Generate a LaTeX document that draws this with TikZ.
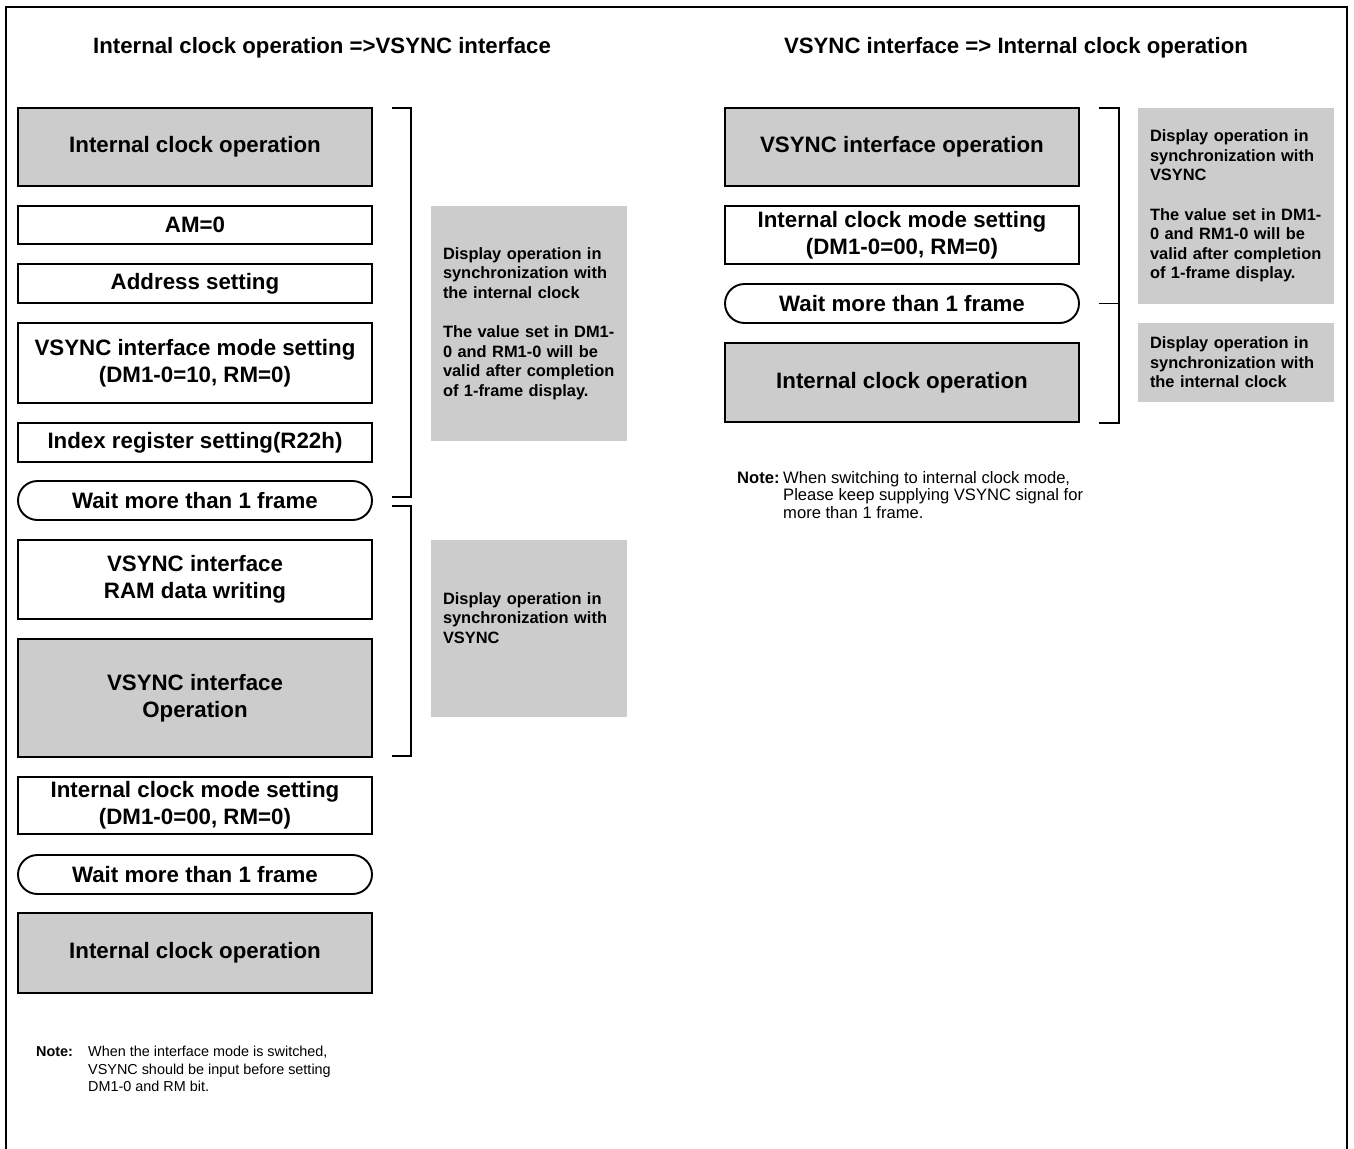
\documentclass[tikz,border=0pt]{standalone}
\usepackage{fontspec}
\setmainfont{Liberation Sans}
\definecolor{panel}{gray}{0.8}
\begin{document}
\begin{tikzpicture}[x=1pt,y=-1pt,
  stepbox/.style={draw, line width=1.9pt, minimum width=354pt, inner sep=0pt,
    align=center, font=\fontsize{22.3}{27}\selectfont\bfseries},
  opbox/.style={stepbox, fill=panel},
  waitbox/.style={stepbox, minimum height=39pt, rounded corners=19.5pt},
  infobox/.style={fill=panel, inner sep=0pt, minimum width=196pt},
  infotext/.style={inner sep=0pt, text width=174pt, align=left,
    font=\fontsize{16.4}{19.6}\selectfont\bfseries},
  heading/.style={inner sep=0pt, font=\fontsize{22.2}{26}\selectfont\bfseries},
  notetext/.style={inner sep=0pt, align=left, anchor=north west},
  bracket/.style={line width=1.9pt}
]
\useasboundingbox (0,0) rectangle (1354,1148);

% outer frame
\draw[line width=2pt] (6,1152) -- (6,7) -- (1347,7) -- (1347,1152);

% headings
\node[heading] (hl) at (322,48) {Internal clock operation =>VSYNC interface};
\node[heading] (hr) at (1016,48) {VSYNC interface => Internal clock operation};

% left sequence
\node[opbox, minimum height=78pt] (l1) at (195,147) {Internal clock operation};
\node[stepbox, minimum height=38pt] (l2) at (195,225) {AM=0};
\node[stepbox, minimum height=39pt] (l3) at (195,283.5) {Address setting};
\node[stepbox, minimum height=80pt] (l4) at (195,363) {VSYNC interface mode setting\\(DM1-0=10, RM=0)};
\node[stepbox, minimum height=39pt] (l5) at (195,442.5) {Index register setting(R22h)};
\node[waitbox] (l6) at (195,500.5) {Wait more than 1 frame};
\node[stepbox, minimum height=79pt] (l7) at (195,579.5) {VSYNC interface\\RAM data writing};
\node[opbox, minimum height=118pt] (l8) at (195,698) {VSYNC interface\\Operation};
\node[stepbox, minimum height=57pt] (l9) at (195,805.5) {Internal clock mode setting\\(DM1-0=00, RM=0)};
\node[waitbox] (l10) at (195,874.5) {Wait more than 1 frame};
\node[opbox, minimum height=80pt] (l11) at (195,953) {Internal clock operation};

% left brackets
\draw[bracket] (392,108) -- (411,108) -- (411,497) -- (392,497);
\draw[bracket] (392,506) -- (411,506) -- (411,756) -- (392,756);

% left explanations
\node[infobox, minimum height=235pt] (ia) at (529,323.5) {};
\node[infotext] (ta) at (530,323.5) {Display operation in\\synchronization with\\the internal clock\\[19.6pt]The value set in DM1-\\0 and RM1-0 will be\\valid after completion\\of 1-frame display.};
\node[infobox, minimum height=177pt] (ib) at (529,628.5) {};
\node[infotext] (tb) at (530,618) {Display operation in\\synchronization with\\VSYNC};

% right sequence
\node[opbox, minimum height=78pt] (r1) at (902,147) {VSYNC interface operation};
\node[stepbox, minimum height=58pt] (r2) at (902,235) {Internal clock mode setting\\(DM1-0=00, RM=0)};
\node[waitbox] (r3) at (902,303.5) {Wait more than 1 frame};
\node[opbox, minimum height=79pt] (r4) at (902,382.5) {Internal clock operation};

% right bracket
\draw[bracket] (1099,108) -- (1119,108) -- (1119,423) -- (1099,423);
\draw[bracket] (1099,303.5) -- (1119,303.5);

% right explanations
\node[infobox, minimum height=196pt] (ic) at (1236,206) {};
\node[infotext] (tc) at (1237,206) {Display operation in\\synchronization with\\VSYNC\\[19.6pt]The value set in DM1-\\0 and RM1-0 will be\\valid after completion\\of 1-frame display.};
\node[infobox, minimum height=79pt] (id) at (1236,362.5) {};
\node[infotext] (td) at (1237,362.5) {Display operation in\\synchronization with\\the internal clock};

% notes
\node[notetext, font=\fontsize{14.4}{17.4}\selectfont] (nl) at (36,1046)
  {\makebox[52pt][l]{\textbf{Note:}}When the interface mode is switched,\\\hspace*{52pt}VSYNC should be input before setting\\\hspace*{52pt}DM1-0 and RM bit.};
\node[notetext, font=\fontsize{16.6}{17.6}\selectfont] (nr) at (737,471)
  {\makebox[46pt][l]{\textbf{Note:}}When switching to internal clock mode,\\\hspace*{46pt}Please keep supplying VSYNC signal for\\\hspace*{46pt}more than 1 frame.};
\end{tikzpicture}
\end{document}
